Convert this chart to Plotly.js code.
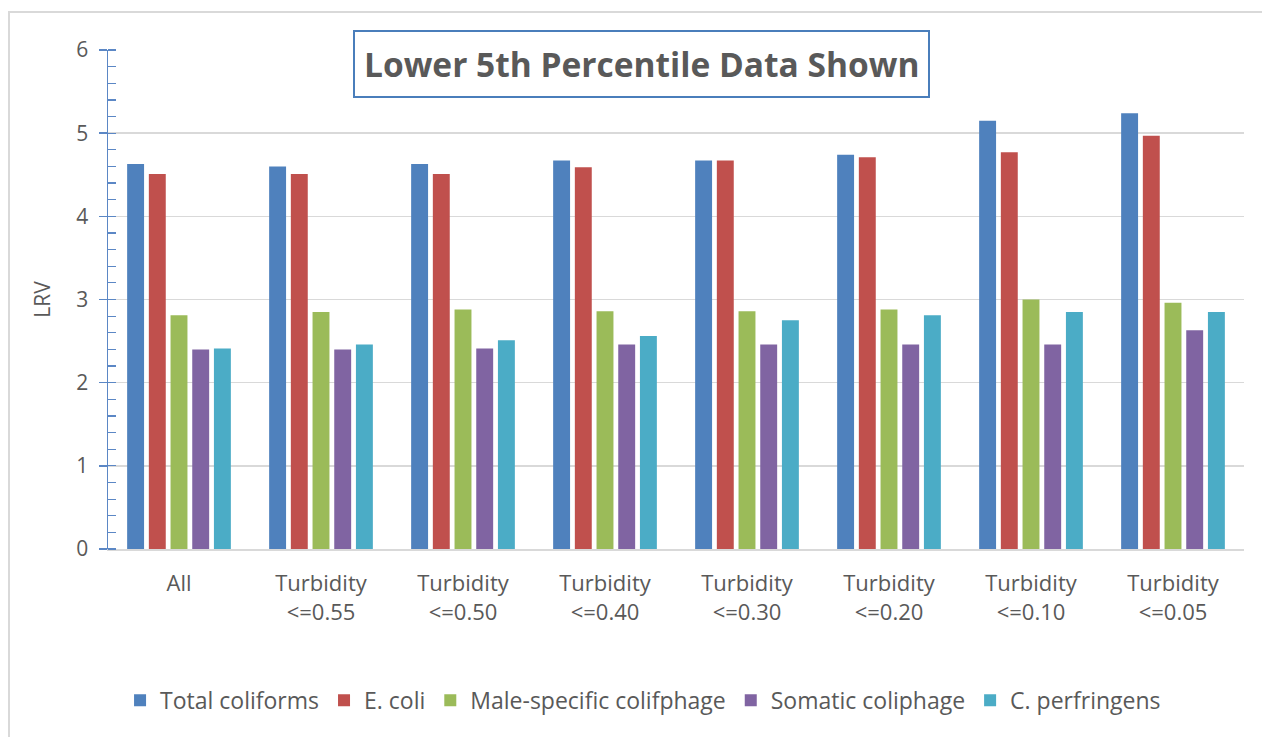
<!DOCTYPE html>
<html>
<head>
<meta charset="utf-8">
<script src="https://cdn.plot.ly/plotly-3.0.1.min.js"></script>
<style>
  html, body { margin: 0; padding: 0; background: #ffffff; }
  #frame {
    position: absolute; left: 8px; top: 11px; width: 1262px; height: 740px;
    border-left: 2px solid #d9d9d9; border-top: 2px solid #d9d9d9;
    pointer-events: none; z-index: 5;
  }
  #chart { width: 1262px; height: 737px; }
</style>
</head>
<body>
<div id="frame"></div>
<div id="chart"></div>
<script>
// Filter groups along the x axis
const groups = [
  'All',
  'Turbidity<br><=0.55',
  'Turbidity<br><=0.50',
  'Turbidity<br><=0.40',
  'Turbidity<br><=0.30',
  'Turbidity<br><=0.20',
  'Turbidity<br><=0.10',
  'Turbidity<br><=0.05'
];

// Lower 5th percentile log removal values per organism
const totalColiforms   = [4.63, 4.60, 4.63, 4.67, 4.67, 4.74, 5.15, 5.24];
const eColi            = [4.51, 4.51, 4.51, 4.59, 4.67, 4.71, 4.77, 4.97];
const maleSpecific     = [2.81, 2.85, 2.88, 2.86, 2.86, 2.88, 3.00, 2.96];
const somaticColiphage = [2.40, 2.40, 2.41, 2.46, 2.46, 2.46, 2.46, 2.63];
const cPerfringens     = [2.41, 2.46, 2.51, 2.56, 2.75, 2.81, 2.85, 2.85];

const seriesNames  = ['Total coliforms', 'E. coli', 'Male-specific colifphage', 'Somatic coliphage', 'C. perfringens'];
const seriesValues = [totalColiforms, eColi, maleSpecific, somaticColiphage, cPerfringens];
const seriesColors = ['#4f81bd', '#c0504d', '#9bbb59', '#8064a2', '#4bacc6'];

const FONT = '"Open Sans", Lato, sans-serif';
const TEXT = '#595959';
const AXIS_BLUE = '#5b87c5';

const traces = seriesNames.map((name, i) => ({
  type: 'bar',
  name: name,
  x: groups,
  y: seriesValues[i],
  marker: { color: seriesColors[i], line: { width: 0 } },
  hoverinfo: 'x+y+name'
}));

const layout = {
  width: 1262,
  height: 737,
  margin: { l: 108, r: 18, t: 50, b: 188 },
  paper_bgcolor: '#ffffff',
  plot_bgcolor: '#ffffff',
  font: { family: FONT, color: TEXT, size: 21 },
  barmode: 'group',
  bargap: 0.236,
  bargroupgap: 0.22,
  showlegend: true,
  legend: {
    orientation: 'h',
    x: 0.471, xanchor: 'center',
    y: -0.303, yanchor: 'middle',
    font: { family: FONT, size: 23, color: TEXT },
    itemwidth: 30,
    traceorder: 'normal'
  },
  xaxis: {
    type: 'category',
    range: [-0.5, 7.5],
    showline: true,
    linecolor: '#d9d9d9',
    linewidth: 1.5,
    ticks: '',
    showgrid: false,
    zeroline: false,
    tickfont: { family: FONT, size: 22, color: TEXT },
    ticklabelstandoff: 14
  },
  yaxis: {
    range: [0, 6],
    dtick: 1,
    tick0: 0,
    showline: true,
    linecolor: AXIS_BLUE,
    linewidth: 1.5,
    ticks: 'outside',
    ticklen: 8,
    tickwidth: 1.5,
    tickcolor: AXIS_BLUE,
    minor: { ticks: 'inside', dtick: 0.2, ticklen: 8, tickwidth: 1.2, tickcolor: AXIS_BLUE, showgrid: false },
    showgrid: true,
    gridcolor: '#d9d9d9',
    gridwidth: 1.5,
    zeroline: false,
    tickfont: { family: FONT, size: 21, color: TEXT },
    ticklabelstandoff: 6,
    title: { text: 'LRV', font: { family: FONT, size: 21, color: TEXT }, standoff: 20 }
  },
  yaxis2: {
    overlaying: 'y',
    side: 'left',
    range: [0, 6],
    dtick: 1,
    tick0: 0,
    ticks: 'inside',
    ticklen: 9,
    tickwidth: 1.5,
    tickcolor: AXIS_BLUE,
    showticklabels: false,
    showgrid: false,
    showline: false,
    zeroline: false
  },
  annotations: [{
    text: '<b>Lower 5th Percentile Data Shown</b>',
    xref: 'paper', yref: 'paper',
    x: 0.470, y: 0.971,
    xanchor: 'center', yanchor: 'middle',
    showarrow: false,
    font: { family: FONT, size: 33.5, color: TEXT },
    bgcolor: '#ffffff',
    bordercolor: '#4a7ebb',
    borderwidth: 2,
    borderpad: 9
  }]
};

Plotly.newPlot('chart', traces, layout, { displayModeBar: false, staticPlot: true });
</script>
</body>
</html>
